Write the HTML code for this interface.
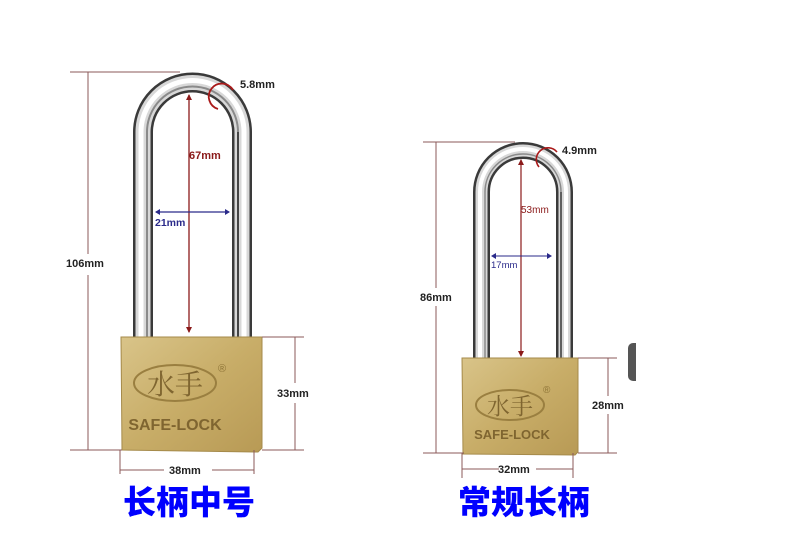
<!DOCTYPE html>
<html><head><meta charset="utf-8"><style>
html,body{margin:0;padding:0;background:#fff;width:800px;height:533px;overflow:hidden}
svg{display:block}
.d{font-family:"Liberation Sans",sans-serif;font-weight:bold;font-size:11px;fill:#222}
.t{font-family:"Liberation Sans","Noto Sans CJK SC",sans-serif;font-weight:900;font-size:33px;fill:#0000ff}
</style></head><body>
<svg width="800" height="533" viewBox="0 0 800 533" xmlns="http://www.w3.org/2000/svg">
<defs>
<linearGradient id="g" x1="0" y1="0" x2="1" y2="1">
<stop offset="0" stop-color="#d9c489"/><stop offset="0.5" stop-color="#c8ad68"/><stop offset="1" stop-color="#b89a55"/>
</linearGradient>
</defs>
<g fill="none">
<path d="M143 337 V132 A49.5 49.5 0 0 1 242 132 V337" stroke="#3a3a3a" stroke-width="20"/>
<path d="M143 337 V132 A49.5 49.5 0 0 1 242 132 V337" stroke="#d8d8d8" stroke-width="15"/>
<path d="M141 337 V132 A51.5 51.5 0 0 1 244 132 V337" stroke="#ffffff" stroke-width="5"/>
<path d="M147 337 V132 A45.5 45.5 0 0 1 238 132 V337" stroke="#8a8a8a" stroke-width="2"/>
<path d="M238 337 V132" stroke="#444" stroke-width="2"/>
</g>
<path d="M121 337 L262 337 L262 448 L258 452 L122 450 Z" fill="url(#g)" stroke="#a58a4a" stroke-width="1"/>
<ellipse cx="175" cy="383" rx="41" ry="18" fill="none" stroke="#9a7f40" stroke-width="2"/>
<text x="175" y="394" text-anchor="middle" font-family="'Noto Serif CJK SC',serif" font-size="28" fill="#7f6530">水手</text>
<text x="218" y="372" font-family="Liberation Sans,sans-serif" font-size="11" fill="#8f7538">®</text>
<text x="175" y="430" text-anchor="middle" font-family="Liberation Sans,sans-serif" font-weight="bold" font-size="16" fill="#7f6530">SAFE-LOCK</text>
<g stroke="#8b5a5a" stroke-width="1" fill="none">
<path d="M70 72 H180 M88 72 V254 M88 275 V450 M70 450 H122"/>
<path d="M262 337 H304 M295 337 V383 M295 403 V450 M262 450 H304"/>
<path d="M120 450 V474 M254 450 V474 M120 470 H164 M212 470 H254"/>
</g>
<text class="d" x="66" y="267">106mm</text>
<text class="d" x="277" y="397">33mm</text>
<text class="d" x="169" y="474">38mm</text>
<path d="M189 95 V332" stroke="#8b1a1a" stroke-width="1.3"/>
<path d="M186 100 L189 94 L192 100 Z M186 327 L189 333 L192 327 Z" fill="#8b1a1a"/>
<text x="189" y="159" font-family="Liberation Sans,sans-serif" font-weight="bold" font-size="11" fill="#8b1a1a">67mm</text>
<path d="M156 212 H229" stroke="#2a2a8a" stroke-width="1.2"/>
<path d="M160 209 L155 212 L160 215 Z M225 209 L230 212 L225 215 Z" fill="#2a2a8a"/>
<text x="155" y="226" font-family="Liberation Sans,sans-serif" font-weight="bold" font-size="10.5" fill="#2a2a8a">21mm</text>
<path d="M218 109 A13 13 0 1 1 233 90" fill="none" stroke="#aa1a1a" stroke-width="1.8"/>
<text class="d" x="240" y="88">5.8mm</text>
<g fill="none">
<path d="M481.5 358 V192 A41.5 41.5 0 0 1 564.5 192 V358" stroke="#3a3a3a" stroke-width="17"/>
<path d="M481.5 358 V192 A41.5 41.5 0 0 1 564.5 192 V358" stroke="#d8d8d8" stroke-width="12"/>
<path d="M480 358 V192 A43 43 0 0 1 566 192 V358" stroke="#ffffff" stroke-width="4"/>
<path d="M485 358 V192 A38 38 0 0 1 561 192 V358" stroke="#8a8a8a" stroke-width="1.5"/>
<path d="M561 358 V192" stroke="#444" stroke-width="1.5"/>
</g>
<path d="M462 358 L578 358 L578 452 L575 455 L463 454 Z" fill="url(#g)" stroke="#a58a4a" stroke-width="1"/>
<ellipse cx="510" cy="405" rx="34" ry="15" fill="none" stroke="#9a7f40" stroke-width="2"/>
<text x="510" y="414" text-anchor="middle" font-family="'Noto Serif CJK SC',serif" font-size="23" fill="#7f6530">水手</text>
<text x="543" y="393" font-family="Liberation Sans,sans-serif" font-size="10" fill="#8f7538">®</text>
<text x="512" y="439" text-anchor="middle" font-family="Liberation Sans,sans-serif" font-weight="bold" font-size="13" fill="#7f6530">SAFE-LOCK</text>
<g stroke="#8b5a5a" stroke-width="1" fill="none">
<path d="M423 142 H515 M436 142 V288 M436 306 V453 M423 453 H464"/>
<path d="M578 358 H617 M608 358 V396 M608 414 V453 M578 453 H617"/>
<path d="M462 453 V478 M573 453 V478 M462 469 H499 M536 469 H573"/>
</g>
<text class="d" x="420" y="301">86mm</text>
<text class="d" x="592" y="409">28mm</text>
<text class="d" x="498" y="473">32mm</text>
<path d="M521 160 V356" stroke="#8b1a1a" stroke-width="1.2"/>
<path d="M518 165 L521 159 L524 165 Z M518 351 L521 357 L524 351 Z" fill="#8b1a1a"/>
<text x="521" y="213" font-family="Liberation Sans,sans-serif" font-size="10" fill="#8b1a1a">53mm</text>
<path d="M492 256 H551" stroke="#2a2a8a" stroke-width="1.1"/>
<path d="M496 253 L491 256 L496 259 Z M547 253 L552 256 L547 259 Z" fill="#2a2a8a"/>
<text x="491" y="268" font-family="Liberation Sans,sans-serif" font-size="9.5" fill="#2a2a8a">17mm</text>
<path d="M539 167 A11 11 0 1 1 557 152" fill="none" stroke="#aa1a1a" stroke-width="1.6"/>
<text class="d" x="562" y="154">4.9mm</text>
<rect x="628" y="343" width="14" height="38" rx="5" fill="#555"/>
<rect x="636" y="343" width="10" height="38" fill="#fff"/>
<text class="t" x="189" y="514" text-anchor="middle">长柄中号</text>
<text class="t" x="524" y="514" text-anchor="middle">常规长柄</text>
</svg>
</body></html>
